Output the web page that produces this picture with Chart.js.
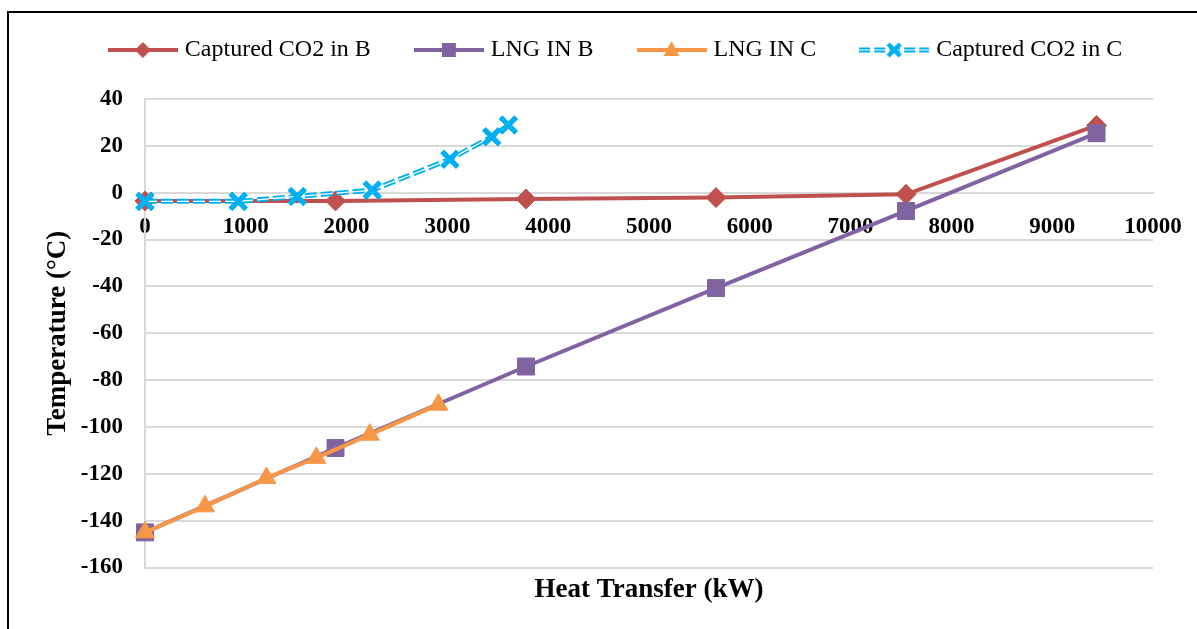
<!DOCTYPE html>
<html>
<head>
<meta charset="utf-8">
<script src="https://cdn.jsdelivr.net/npm/chart.js@4/dist/chart.umd.min.js"></script>
<style>
  html, body { margin: 0; padding: 0; background: #fff; overflow: hidden; }
  #wrap { position: relative; width: 1197px; height: 629px; }
  #frame { position: absolute; left: 7px; top: 11px; width: 1300px; height: 700px;
           border-left: 2px solid #000; border-top: 2px solid #000; pointer-events: none; }
</style>
</head>
<body>
<div id="wrap">
  <canvas id="chLine" width="1197" height="629"></canvas>
  <div id="frame"></div>
</div>
<script>
// series data
const seriesNames = ["Captured CO2 in B", "LNG IN B", "LNG IN C", "Captured CO2 in C"];
const heatB = [0, 1890, 3780, 5665, 7550, 9440];
const co2B = [-3.5, -3.5, -2.7, -2.1, -0.7, 28.7];
const lngB = [-145, -109, -74.2, -40.7, -7.8, 25.4];
const heatLngC = [0, 595, 1205, 1700, 2230, 2910];
const lngC = [-145, -133.9, -121.8, -113.2, -103.3, -90.5];
const heatCo2C = [0, 925, 1510, 2255, 3025, 3440, 3605];
const co2C = [-3.7, -3.7, -1.6, 1.1, 14.3, 23.9, 28.9];

const xMin = 0, xMax = 10000, xStep = 1000;
const yMin = -160, yMax = 40, yStep = 20;

const colors = ["#C0504D", "#8064A2", "#F79646", "#00B0F0"];
const serif = "'Liberation Serif', 'Times New Roman', serif";

function pts(xs, ys) {
  return xs.map((x, i) => ({ x: x, y: ys[i] }));
}

// legend icon: line with marker in the middle, like Excel
function legendIcon(color, shape, dashed) {
  const c = document.createElement("canvas");
  c.width = 70; c.height = 24;
  const g = c.getContext("2d");
  g.strokeStyle = color;
  g.fillStyle = color;
  g.lineWidth = dashed ? 5 : 4;
  if (dashed) g.setLineDash([11, 4]);
  g.beginPath(); g.moveTo(0, 12); g.lineTo(70, 12); g.stroke();
  if (dashed) {
    g.strokeStyle = "#fff"; g.lineWidth = 1.2;
    g.beginPath(); g.moveTo(0, 12); g.lineTo(70, 12); g.stroke();
  }
  g.setLineDash([]);
  g.strokeStyle = color;
  g.beginPath();
  if (shape === "diamond") {
    g.moveTo(35, 4); g.lineTo(43, 12); g.lineTo(35, 20); g.lineTo(27, 12); g.closePath(); g.fill();
  } else if (shape === "square") {
    g.rect(28, 5, 14, 14); g.fill();
  } else if (shape === "triangle") {
    g.moveTo(35, 3); g.lineTo(43, 18); g.lineTo(27, 18); g.closePath(); g.fill();
  } else {
    g.lineWidth = 4.5;
    g.moveTo(29, 6); g.lineTo(41, 18); g.moveTo(41, 6); g.lineTo(29, 18); g.stroke();
  }
  return c;
}

const icons = [
  legendIcon(colors[0], "diamond", false),
  legendIcon(colors[1], "square", false),
  legendIcon(colors[2], "triangle", false),
  legendIcon(colors[3], "cross", true),
];

// white core over the dashed cyan line (Excel double line), then markers again
const doubleLine = {
  id: "doubleLine",
  afterDatasetDraw(chart, args) {
    const ds = chart.data.datasets[args.index];
    if (!ds.doubleLine) return;
    const ctx = chart.ctx;
    const p = args.meta.data;
    ctx.save();
    ctx.strokeStyle = "#fff";
    ctx.lineWidth = 1.3;
    ctx.setLineDash(ds.borderDash);
    ctx.beginPath();
    p.forEach((pt, i) => (i ? ctx.lineTo(pt.x, pt.y) : ctx.moveTo(pt.x, pt.y)));
    ctx.stroke();
    ctx.restore();
    p.forEach((pt) => pt.draw(ctx, chart.chartArea));
  },
};

// legend box height and horizontal shift
const legendBox = {
  id: "legendBox",
  beforeInit(chart) {
    const lg = chart.legend;
    const fit = lg.fit;
    lg.fit = function () { fit.call(this); this.height = 109; };
    const draw = lg.draw;
    lg.draw = function () {
      this.ctx.save(); this.ctx.translate(41, 0);
      draw.call(this);
      this.ctx.restore();
    };
  },
};

const data = {
  datasets: [
    {
      label: seriesNames[0], data: pts(heatB, co2B), order: 3,
      borderColor: colors[0], backgroundColor: colors[0], borderWidth: 4,
      pointStyle: "rectRot", pointRadius: 10, pointBorderWidth: 1,
    },
    {
      label: seriesNames[1], data: pts(heatB, lngB), order: 2,
      borderColor: colors[1], backgroundColor: colors[1], borderWidth: 4,
      pointStyle: "rect", pointRadius: 12, pointBorderWidth: 1,
    },
    {
      label: seriesNames[2], data: pts(heatLngC, lngC), order: 1,
      borderColor: colors[2], backgroundColor: colors[2], borderWidth: 4,
      pointStyle: "triangle", pointRadius: 11, pointBorderWidth: 1,
    },
    {
      label: seriesNames[3], data: pts(heatCo2C, co2C), order: 0,
      borderColor: colors[3], backgroundColor: colors[3], borderWidth: 5,
      borderDash: [12, 4], doubleLine: true,
      pointStyle: "crossRot", pointRadius: 11, pointBorderWidth: 5,
    },
  ],
};

const config = {
  type: "line",
  data: data,
  options: {
    responsive: false,
    animation: false,
    datasets: { line: { clip: false, tension: 0 } },
    layout: { padding: { left: 0, right: 44, top: -10, bottom: 23 } },
    plugins: {
      tooltip: { enabled: false },
      legend: {
        position: "top",
        labels: {
          usePointStyle: true,
          pointStyleWidth: 60,
          padding: 48,
          color: "#000",
          font: { family: serif, size: 24 },
          generateLabels: (chart) =>
            chart.data.datasets.map((ds, i) => ({
              text: ds.label, pointStyle: icons[i], datasetIndex: i, hidden: false,
              lineWidth: 0, fillStyle: "rgba(0,0,0,0)", strokeStyle: "rgba(0,0,0,0)",
            })),
        },
      },
    },
    scales: {
      x: {
        type: "linear",
        position: { y: 0 },
        min: xMin, max: xMax,
        ticks: {
          stepSize: xStep, padding: 13, color: "#000", maxRotation: 0, autoSkip: false,
          font: { family: serif, size: 23, weight: "bold" },
          callback: (v) => String(v),
        },
        grid: { display: false },
        border: { color: "#d9d9d9", width: 2 },
      },
      xTitle: {
        type: "linear",
        axis: "x",
        position: "bottom",
        grid: { display: false },
        border: { display: false },
        ticks: { display: false },
        title: {
          display: true, text: "Heat Transfer (kW)", color: "#000",
          font: { family: serif, size: 27, weight: "bold" },
          padding: { top: 6, bottom: 0 },
        },
        afterFit: (scale) => { scale.height = 38.5; },
      },
      y: {
        min: yMin, max: yMax,
        ticks: {
          stepSize: yStep, padding: 22, color: "#000",
          font: { family: serif, size: 23, weight: "bold" },
          callback: (v) => String(v),
        },
        grid: { color: "#d9d9d9", lineWidth: 2, drawTicks: false },
        border: { color: "#d9d9d9", width: 2 },
        title: {
          display: true, text: "Temperature (°C)", color: "#000",
          font: { family: serif, size: 27, weight: "bold" },
          padding: { top: 42, bottom: 0 },
        },
        afterFit: (scale) => { scale.width = 145; },
      },
    },
  },
  plugins: [legendBox, doubleLine],
};

var myChart = new Chart(document.getElementById("chLine"), config);
</script>
</body>
</html>
